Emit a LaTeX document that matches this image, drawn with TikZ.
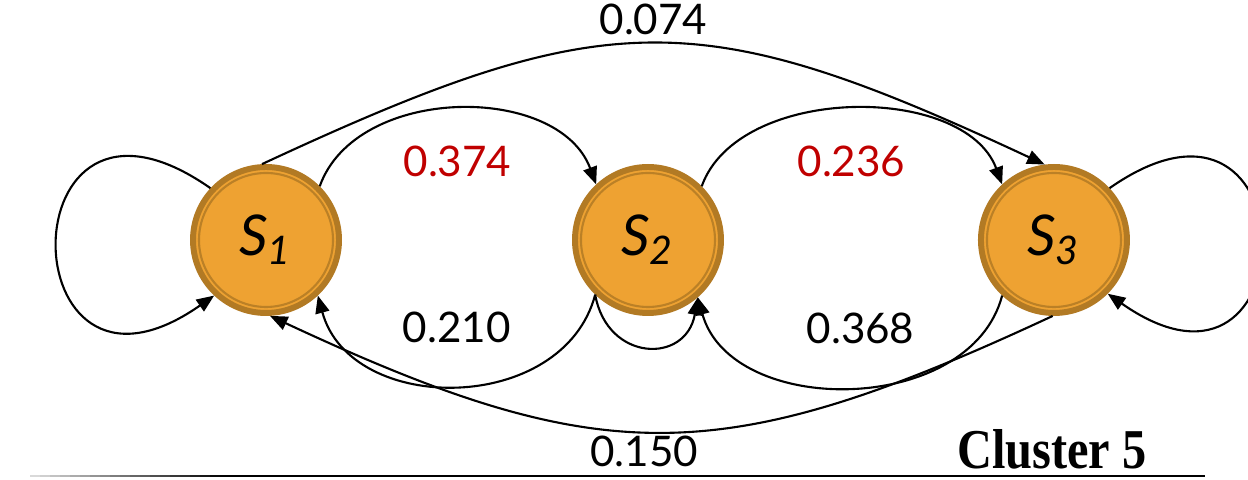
\documentclass[tikz,border=0pt]{standalone}
\usepackage{fontspec}
\newfontfamily\statefont{Lato}
\newfontfamily\clusterfont[FakeStretch=0.86]{Liberation Serif}
\usetikzlibrary{automata, positioning, arrows.meta}

\definecolor{stateorange}{HTML}{EEA232}
\definecolor{staterim}{HTML}{B27A24}
\definecolor{probred}{HTML}{C00000}

\begin{document}
\begin{tikzpicture}[
    >={Triangle[length=5pt, width=4pt]},
    every state/.style={draw=staterim, line width=1.7pt, fill=stateorange, minimum size=1.46cm, inner sep=0pt,
        font=\statefont\itshape\fontsize{16}{18}\selectfont,
        path picture={\draw[staterim!85!stateorange, line width=0.6pt] (path picture bounding box.center) circle (0.67cm);}},
    every edge/.style={draw, ->, line width=0.6pt},
    prob/.style={font=\statefont\fontsize{12}{14}\selectfont, inner sep=0pt},
    hot/.style={prob, text=probred}
]
    \useasboundingbox (0,0) rectangle (12.48,4.80);

    % --- STATES ---
    \node[state] (s1) at (2.66,2.40) {S\textsubscript{1}};
    \node[state, right=2.30cm of s1] (s2) {S\textsubscript{2}};
    \node[state, right=2.54cm of s2] (s3) {S\textsubscript{3}};

    % --- FORWARD TRANSITIONS (upper arcs) ---
    \path[->]
        (s1.45) edge[bend left=70] node[hot, below=0.36cm] {0.374} (s2.133)
        (s2.45) edge[bend left=70, looseness=0.92] node[hot, below=0.36cm] {0.236} (s3.133)
        (s1.93) edge[bend left=25, looseness=1.25] node[prob, above=0.08cm] {0.074} (s3.97);

    % --- BACKWARD TRANSITIONS (lower arcs) ---
    \path[->]
        (s2.226) edge[bend left=75, looseness=1.15] node[prob, above=0.42cm] {0.210} (s1.313)
        (s3.227) edge[bend left=75, looseness=1.05] node[prob, above=0.42cm, xshift=0.1cm] {0.368} (s2.311)
        (s3.269) edge[bend left=25, looseness=1.2] node[prob, below=0.03cm, xshift=-0.17cm] {0.150} (s1.273);

    % Self loops
    \path[->]
        (s1.137) edge[out=145, in=215, looseness=6] (s1.227)
        (s2.226) edge[out=-80, in=-100, looseness=1.7] (s2.311)
        (s3.43) edge[out=35, in=-35, looseness=6] (s3.-45);

    % Caption and rule
    \node[font=\clusterfont\bfseries\fontsize{16}{18}\selectfont] (cluster) at (10.52,0.31) {Cluster 5};
    \foreach \i in {0,...,19}
        \draw[line width=0.8pt, black!\the\numexpr 15+\i*85/19\relax] (0.30+\i*0.1,0.04) -- (0.41+\i*0.1,0.04);
    \draw[line width=0.8pt] (2.30,0.04) -- (12.05,0.04);

\end{tikzpicture}
\end{document}
